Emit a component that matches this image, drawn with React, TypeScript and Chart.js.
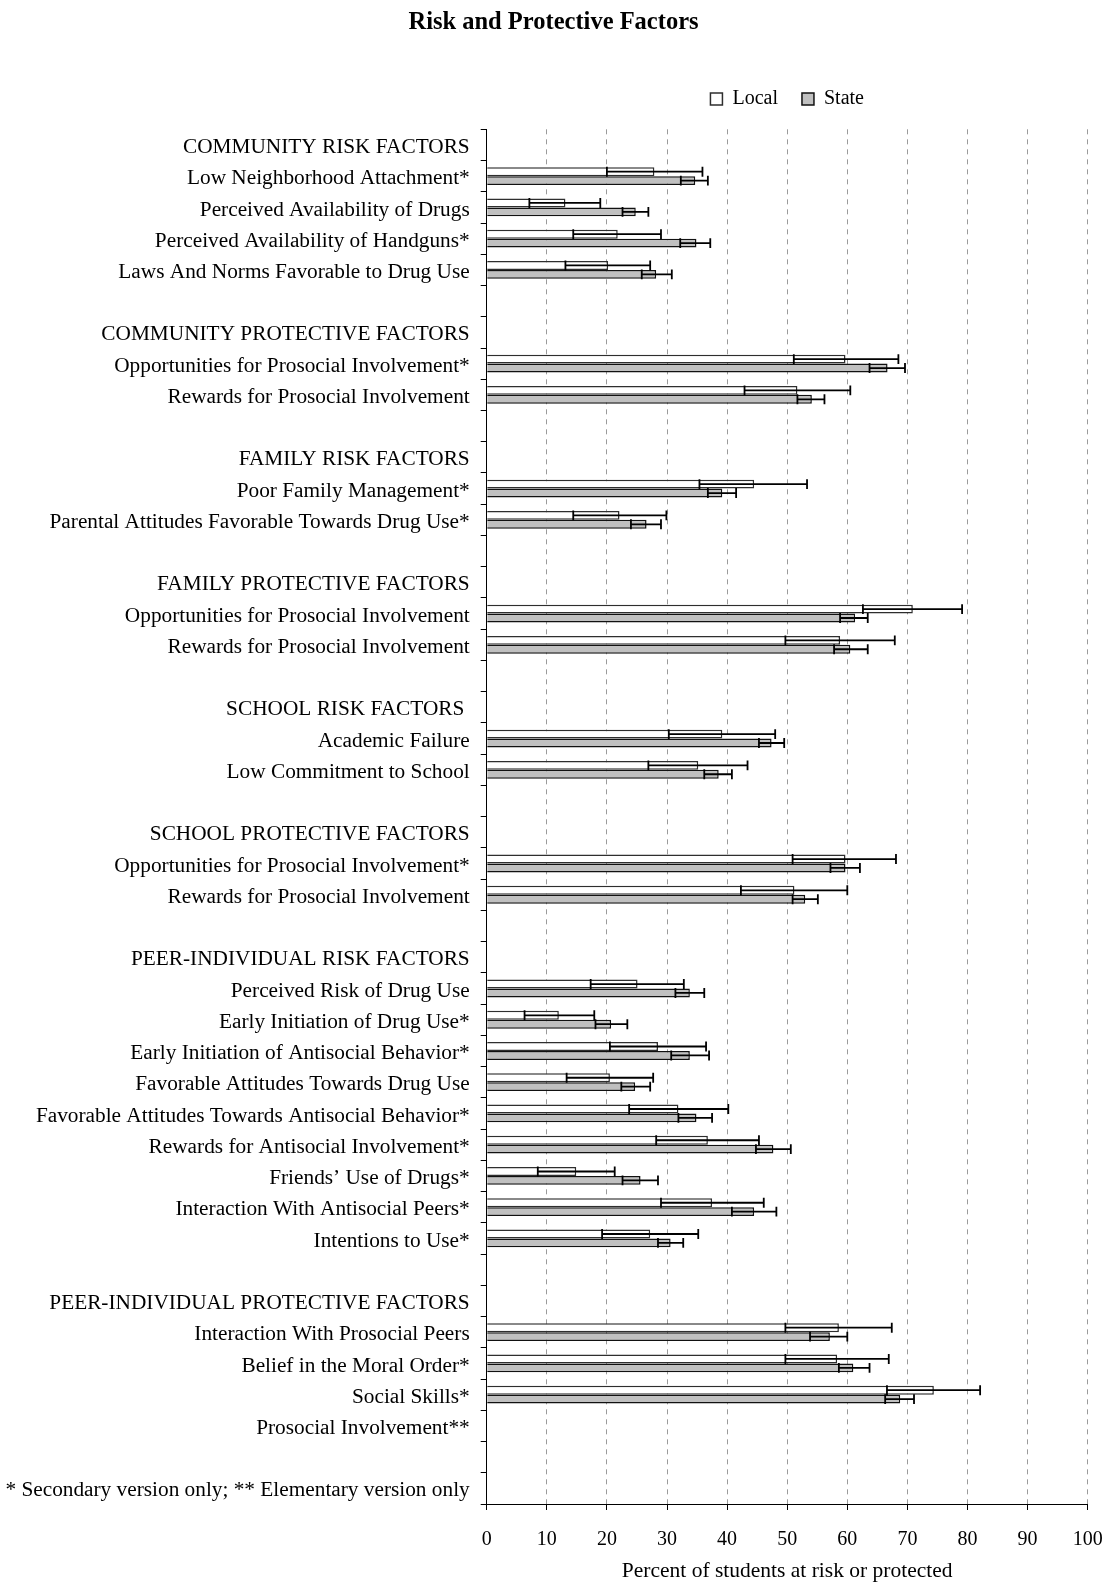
import React, { useEffect, useRef } from 'react';
import { Chart, registerables } from 'chart.js';

Chart.register(...registerables);

const FONT = '"Liberation Serif", "Times New Roman", serif';

const categories: string[] = [
  'COMMUNITY RISK FACTORS',
  'Low Neighborhood Attachment*',
  'Perceived Availability of Drugs',
  'Perceived Availability of Handguns*',
  'Laws And Norms Favorable to Drug Use',
  '',
  'COMMUNITY PROTECTIVE FACTORS',
  'Opportunities for Prosocial Involvement*',
  'Rewards for Prosocial Involvement',
  '',
  'FAMILY RISK FACTORS',
  'Poor Family Management*',
  'Parental Attitudes Favorable Towards Drug Use*',
  '',
  'FAMILY PROTECTIVE FACTORS',
  'Opportunities for Prosocial Involvement',
  'Rewards for Prosocial Involvement',
  '',
  'SCHOOL RISK FACTORS ',
  'Academic Failure',
  'Low Commitment to School',
  '',
  'SCHOOL PROTECTIVE FACTORS',
  'Opportunities for Prosocial Involvement*',
  'Rewards for Prosocial Involvement',
  '',
  'PEER-INDIVIDUAL RISK FACTORS',
  'Perceived Risk of Drug Use',
  'Early Initiation of Drug Use*',
  'Early Initiation of Antisocial Behavior*',
  'Favorable Attitudes Towards Drug Use',
  'Favorable Attitudes Towards Antisocial Behavior*',
  'Rewards for Antisocial Involvement*',
  'Friends\u2019 Use of Drugs*',
  'Interaction With Antisocial Peers*',
  'Intentions to Use*',
  '',
  'PEER-INDIVIDUAL PROTECTIVE FACTORS',
  'Interaction With Prosocial Peers',
  'Belief in the Moral Order*',
  'Social Skills*',
  'Prosocial Involvement**',
  '',
  '* Secondary version only; ** Elementary version only',
];

const localValues: (number | null)[] = [
  null, 27.9, 13.1, 21.8, 20.2, null,
  null, 59.7, 51.7, null,
  null, 44.5, 22.1, null,
  null, 70.9, 58.8, null,
  null, 39.2, 35.2, null,
  null, 59.7, 51.2, null,
  null, 25.1, 12.0, 28.5, 20.5, 31.9, 36.8, 14.9, 37.5, 27.2, null,
  null, 58.6, 58.3, 74.4, null, null, null,
];
const localLow: (number | null)[] = [
  null, 20.0, 7.1, 14.4, 13.1, null,
  null, 51.1, 42.9, null,
  null, 35.4, 14.4, null,
  null, 62.6, 49.7, null,
  null, 30.3, 26.9, null,
  null, 50.9, 42.3, null,
  null, 17.3, 6.3, 20.5, 13.3, 23.7, 28.2, 8.5, 29.0, 19.2, null,
  null, 49.7, 49.7, 66.6, null, null, null,
];
const localHigh: (number | null)[] = [
  null, 35.9, 18.9, 29.0, 27.2, null,
  null, 68.5, 60.5, null,
  null, 53.3, 29.9, null,
  null, 79.1, 67.9, null,
  null, 48.0, 43.4, null,
  null, 68.1, 60.0, null,
  null, 32.8, 17.9, 36.5, 27.7, 40.2, 45.3, 21.3, 46.1, 35.2, null,
  null, 67.4, 66.9, 82.1, null, null, null,
];

const stateValues: (number | null)[] = [
  null, 34.7, 24.8, 34.9, 28.2, null,
  null, 66.7, 54.1, null,
  null, 39.2, 26.6, null,
  null, 61.3, 60.5, null,
  null, 47.4, 38.6, null,
  null, 59.7, 53.0, null,
  null, 33.8, 20.7, 33.8, 24.7, 34.9, 47.7, 25.6, 44.5, 30.6, null,
  null, 57.1, 61.0, 68.8, null, null, null,
];
const stateLow: (number | null)[] = [
  null, 32.3, 22.6, 32.2, 25.8, null,
  null, 63.7, 51.7, null,
  null, 36.8, 24.0, null,
  null, 58.8, 57.8, null,
  null, 45.3, 36.2, null,
  null, 57.2, 50.9, null,
  null, 31.4, 18.1, 30.7, 22.4, 31.9, 44.8, 22.6, 40.8, 28.5, null,
  null, 53.8, 58.6, 66.3, null, null, null,
];
const stateHigh: (number | null)[] = [
  null, 36.8, 26.9, 37.2, 30.8, null,
  null, 69.6, 56.2, null,
  null, 41.5, 29.0, null,
  null, 63.4, 63.4, null,
  null, 49.5, 40.8, null,
  null, 62.1, 55.1, null,
  null, 36.2, 23.4, 37.0, 27.2, 37.5, 50.6, 28.5, 48.2, 32.7, null,
  null, 60.0, 63.7, 71.1, null, null, null,
];

const xTicks: number[] = [0, 10, 20, 30, 40, 50, 60, 70, 80, 90, 100];

const errorBarPlugin = {
  id: 'errorBars',
  afterDatasetsDraw(chart: any) {
    const ctx = chart.ctx;
    const xScale = chart.scales.x;
    ctx.save();
    ctx.strokeStyle = '#000';
    ctx.lineWidth = 1.8;
    chart.data.datasets.forEach((ds: any, di: number) => {
      const meta = chart.getDatasetMeta(di);
      const lo = ds.errLow as (number | null)[];
      const hi = ds.errHigh as (number | null)[];
      meta.data.forEach((el: any, j: number) => {
        if (lo[j] == null || hi[j] == null || ds.data[j] == null) return;
        const { y, height } = el.getProps(['y', 'height'], true);
        const x1 = xScale.getPixelForValue(lo[j]);
        const x2 = xScale.getPixelForValue(hi[j]);
        const h = height / 2 + 0.5;
        ctx.beginPath();
        ctx.moveTo(x1, y);
        ctx.lineTo(x2, y);
        ctx.moveTo(x1, y - h);
        ctx.lineTo(x1, y + h);
        ctx.moveTo(x2, y - h);
        ctx.lineTo(x2, y + h);
        ctx.stroke();
      });
    });
    ctx.restore();
  },
};

const legendSpacer = {
  id: 'legendSpacer',
  beforeInit(chart: any) {
    const legend = chart.legend;
    if (!legend) return;
    const orig = legend.fit;
    legend.fit = function () {
      orig.bind(legend)();
      this.height += 10.3;
    };
  },
};

export default function App() {
  const ref = useRef<HTMLCanvasElement>(null);
  useEffect(() => {
    if (!ref.current) return;
    const chart = new Chart(ref.current, {
      type: 'bar',
      data: {
        labels: categories,
        datasets: [
          {
            label: 'Local',
            data: localValues,
            errLow: localLow,
            errHigh: localHigh,
            backgroundColor: '#ffffff',
            borderColor: '#2e2e2e',
            borderWidth: 1.5,
            barPercentage: 1,
            categoryPercentage: 0.57,
          } as any,
          {
            label: 'State',
            data: stateValues,
            errLow: stateLow,
            errHigh: stateHigh,
            backgroundColor: '#c0c0c0',
            borderColor: '#111111',
            borderWidth: 1.5,
            barPercentage: 1,
            categoryPercentage: 0.57,
          } as any,
        ],
      },
      options: {
        indexAxis: 'y',
        responsive: false,
        maintainAspectRatio: false,
        animation: false,
        devicePixelRatio: 1,
        layout: { padding: { left: 0, right: 0, top: 0, bottom: 0 } },
        plugins: {
          title: {
            display: true,
            text: 'Risk and Protective Factors',
            color: '#000',
            font: { family: FONT, size: 24.5, weight: 'bold' },
            padding: { top: 7.8, bottom: 27.8 },
          },
          legend: {
            display: true,
            position: 'top',
            fullSize: false,
            labels: {
              color: '#000',
              font: { family: FONT, size: 20 },
              boxWidth: 12,
              boxHeight: 12,
              padding: 24,
            },
          },
          tooltip: { enabled: false },
        },
        scales: {
          x: {
            type: 'linear',
            position: 'bottom',
            min: 0,
            max: 100,
            afterBuildTicks: (scale: any) => {
              scale.ticks = xTicks.map((v) => ({ value: v }));
            },
            afterFit: (scale: any) => {
              scale.height = 79;
              scale.paddingLeft = 0;
              scale.paddingRight = 19.3;
              scale.paddingTop = 0;
              scale.paddingBottom = 0;
            },
            ticks: {
              color: '#000',
              font: { family: FONT, size: 20 },
              padding: 17.5,
              maxRotation: 0,
            },
            grid: {
              display: true,
              drawOnChartArea: true,
              drawTicks: true,
              tickLength: 6,
              tickColor: '#000',
              tickWidth: 1,
              tickBorderDash: [],
              lineWidth: 1,
              color: (c: any) => (c.tick && c.tick.value === 0 ? 'rgba(0,0,0,0)' : '#9a9a9a'),
            },
            border: { display: true, color: '#000', width: 1, dash: [5, 5] },
            title: {
              display: true,
              text: 'Percent of students at risk or protected',
              color: '#000',
              font: { family: FONT, size: 21.5 },
              padding: { top: 0, bottom: -1.5 },
            },
          },
          y: {
            type: 'category',
            offset: true,
            afterFit: (scale: any) => {
              scale.width = 486.7;
              scale.paddingLeft = 0;
              scale.paddingRight = 0;
              scale.paddingTop = 0;
              scale.paddingBottom = 0;
            },
            ticks: {
              color: '#000',
              font: { family: FONT, size: 21.3 },
              autoSkip: false,
              padding: 11,
              labelOffset: 2.5,
            },
            grid: {
              display: true,
              offset: true,
              drawOnChartArea: false,
              drawTicks: true,
              tickLength: 6,
              tickColor: '#000',
            },
            border: { display: true, color: '#000', width: 1 },
          },
        },
      } as any,
      plugins: [errorBarPlugin, legendSpacer],
    });
    return () => chart.destroy();
  }, []);
  return (
    <div style={{ position: 'absolute', left: 0, top: 0, width: 1107, height: 1583, background: '#fff' }}>
      <canvas ref={ref} width={1107} height={1583} style={{ display: 'block', width: 1107, height: 1583 }} />
    </div>
  );
}
